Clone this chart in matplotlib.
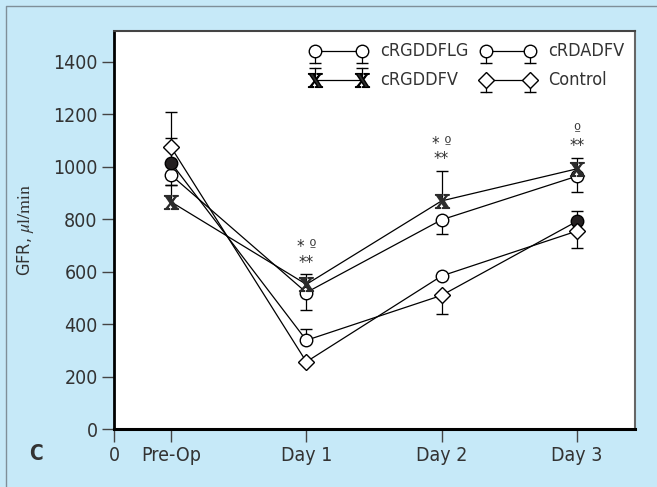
import matplotlib.pyplot as plt
from matplotlib.lines import Line2D

plt.rcParams['font.family'] = ['DejaVu Sans']
plt.rcParams['font.stretch'] = 'condensed'
plt.rcParams['mathtext.fontset'] = 'stix'

# data (GFR, ul/min)
days = ['Pre-Op', 'Day 1', 'Day 2', 'Day 3']
day_x = [0.42, 1.42, 2.42, 3.42]

rgddflg = [968, 521, 798, 964]
rgddflg_lo = [36, 68, 53, 60]

rgddfv = [866, 552, 870, 992]
rgddfv_hi = [66, 38, 113, 43]

rdadfv = [1015, 339, 584, 792]
rdadfv_hi = [96, 43, 0, 38]
rdadfv_filled = [True, False, False, True]

control = [1074, 257, 510, 755]
control_hi = [133, 0, 0, 0]
control_lo = [0, 0, 69, 63]

# significance marks above the cRGDDFV bars
sig_days = [1, 2, 3]
sig_text = ['* \u00ba\n**', '* \u00ba\n**', '\u00ba\n**']

bg = '#c6e9f8'
fig = plt.figure(figsize=(6.57, 4.87), dpi=100, facecolor=bg)
ax = fig.add_axes([0.174, 0.1185, 0.7925, 0.8178])


def bars(x, y, err, sign):
    for xi, yi, e in zip(x, y, err):
        if e:
            end = yi + sign * e
            ax.vlines(xi, yi, end, color='k', lw=0.9, zorder=2.5)
            ax.plot(xi, end, marker='_', ms=9, mew=1.0, color='k', zorder=2.5)


bars(day_x, rgddflg, rgddflg_lo, -1)
bars(day_x, rgddfv, rgddfv_hi, 1)
bars(day_x, rdadfv, rdadfv_hi, 1)
bars(day_x, control, control_hi, 1)
bars(day_x, control, control_lo, -1)

line_kw = dict(color='k', lw=0.9, zorder=2)
ax.plot(day_x, rgddflg, **line_kw)
ax.plot(day_x, rgddfv, **line_kw)
# the two lower traces swap partners at Day 2 in the original figure
ax.plot(day_x, [rdadfv[0], rdadfv[1], control[2], rdadfv[3]], **line_kw)
ax.plot(day_x, [control[0], control[1], rdadfv[2], control[3]], **line_kw)

circ = dict(ls='none', marker='o', ms=9, mec='k', mew=1.0, zorder=3)
ax.plot(day_x, rgddflg, mfc='white', **circ)
for xi, yi, f in zip(day_x, rdadfv, rdadfv_filled):
    ax.plot(xi, yi, mfc='#231f20' if f else 'white', **circ)
ax.plot(day_x, control, ls='none', marker='D', ms=8, mfc='white', mec='k',
        mew=1.0, zorder=3)
ax.plot(day_x, rgddfv, ls='none', marker=r'$\mathbf{X}$', ms=10,
        color='#2b2b2b', zorder=3.5)

for d, t in zip(sig_days, sig_text):
    ax.annotate(t, xy=(day_x[d], rgddfv[d] + rgddfv_hi[d]), xytext=(0, 2),
                textcoords='offset points', ha='center', va='bottom',
                fontsize=12, linespacing=0.8, color='#333')

# legend drawn by hand: two markers joined by a line, with a small bar
T = ax.transAxes
legend = [
    ('cRGDDFLG', 0.385, 0.475, 0.950, dict(marker='o', ms=9, mfc='white'), -1),
    ('cRGDDFV', 0.385, 0.475, 0.877, dict(marker=r'$\mathbf{X}$', ms=10), 1),
    ('cRDADFV', 0.714, 0.798, 0.950, dict(marker='o', ms=9, mfc='white'), -1),
    ('Control', 0.714, 0.798, 0.877, dict(marker='D', ms=8, mfc='white'), -1),
]
for name, x0, x1, y, mk, sign in legend:
    ax.plot([x0, x1], [y, y], color='k', lw=0.9, transform=T, clip_on=False)
    for xx in (x0, x1):
        ye = y + sign * 0.03
        ax.plot([xx, xx], [y, ye], color='k', lw=0.9, transform=T, clip_on=False)
        ax.plot(xx, ye, marker='_', ms=8, mew=1.0, color='k', transform=T,
                clip_on=False)
        ax.plot(xx, y, ls='none', mec='k', mew=1.0, color='#2b2b2b',
                transform=T, clip_on=False, zorder=3, **mk)
    ax.text(x1 + 0.035, y, name, transform=T, ha='left', va='center',
            fontsize=13, color='#333')

ax.set_xlim(0, 3.85)
ax.set_ylim(0, 1517)
ax.set_xticks([0] + day_x)
ax.set_xticklabels(['0'] + days)
ax.set_yticks(range(0, 1401, 200))
ax.tick_params(direction='out', length=9, width=1, color='#444',
               labelsize=14, labelcolor='#333', pad=3)

ax.spines['left'].set_linewidth(2)
ax.spines['bottom'].set_linewidth(2.2)
ax.spines['top'].set_linewidth(1.5)
ax.spines['top'].set_color('#444')
ax.spines['right'].set_linewidth(1.5)
ax.spines['right'].set_color('#666')

ax.set_ylabel(r'GFR, $\mu\mathrm{l/min}$', fontsize=13, color='#333')
ax.yaxis.set_label_coords(-0.150, 0.5)

fig.text(0.055, 0.068, 'C', fontsize=15, fontweight='bold', color='#333',
         ha='center', va='center')

# thin frame line along the top and left edge of the panel
fig.add_artist(Line2D([6 / 657, 6 / 657, 1], [0, 1 - 6 / 487, 1 - 6 / 487],
                      color='#7f8f99', lw=1, transform=fig.transFigure))

fig.savefig('out.png', dpi=100, facecolor=bg)
